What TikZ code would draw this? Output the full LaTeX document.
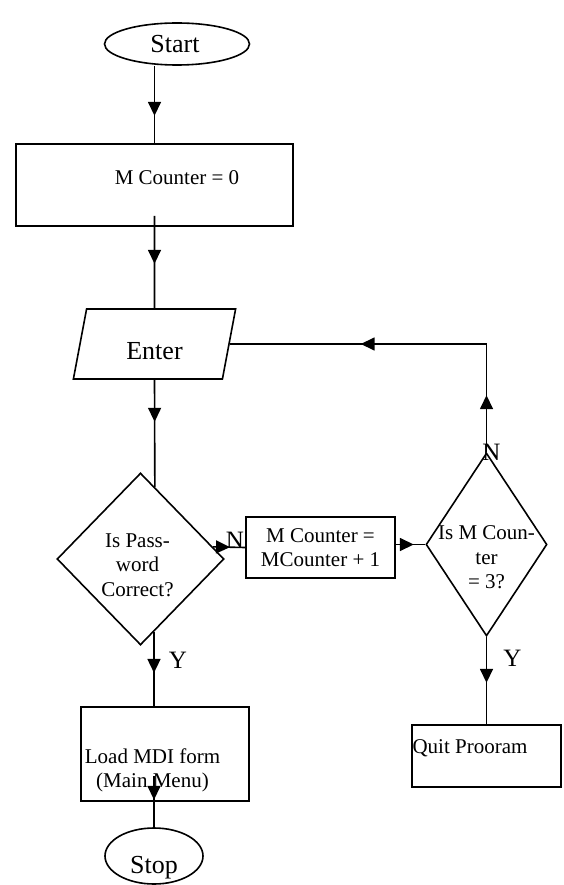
\documentclass[tikz,border=0pt]{standalone}
\usepackage{fontspec}
\setmainfont{Liberation Serif}
\usetikzlibrary{shapes.geometric,arrows.meta,decorations.markings,calc}

\begin{document}
\begin{tikzpicture}[
    x=1pt, y=-1pt,
    line width=1.6pt,
    >={Triangle[length=14pt,width=13pt]},
    terminal/.style={draw, ellipse, inner sep=0pt},
    process/.style={draw, rectangle, inner sep=0pt, align=center, font=\fontsize{21}{24.5}\selectfont},
    io/.style={draw, trapezium, trapezium left angle=80, trapezium right angle=100, trapezium stretches=true, inner sep=0pt, font=\fontsize{26}{30}\selectfont},
    decision/.style={draw, diamond, inner sep=0pt},
    txt/.style={font=\fontsize{21}{24.5}\selectfont, align=center, inner sep=0pt},
    bigtxt/.style={font=\fontsize{26}{30}\selectfont, inner sep=0pt},
    answer/.style={font=\fontsize{25}{30}\selectfont, inner sep=0pt},
    midarrow/.style={postaction={decorate}, decoration={markings, mark=at position #1 with {\arrow{>}}}},
    twoarrows/.style 2 args={postaction={decorate}, decoration={markings, mark=at position #1 with {\arrow{>}}, mark=at position #2 with {\arrow{>}}}}
    ]
    \useasboundingbox (0,0) rectangle (563,885);

    \node[terminal, minimum width=145pt, minimum height=42pt,
        label={[bigtxt, name=starttext, xshift=-2pt]center:Start}] (start) at (177,44) {};
    \node[process, minimum width=277pt, minimum height=82pt,
        label={[txt, name=mcounttext, xshift=22.5pt, yshift=7pt]center:M Counter = 0}] (mcount) at (154.5,185) {};
    \node[io, minimum width=163pt, minimum height=70pt, text height=31pt, text depth=0pt] (enter) at (154.5,344) {Enter};
    \node[decision, minimum width=167pt, minimum height=172pt,
        label={[txt, name=pwdtext, xshift=-3pt, yshift=-6pt]center:Is Pass-\\word\\Correct?}] (pwd) at (140.5,559) {};
    \node[process, minimum width=149pt, minimum height=61pt] (incr) at (320.5,547.5) {M Counter =\\MCounter + 1};
    \node[decision, minimum width=121pt, minimum height=183pt,
        label={[txt, name=cnt3text, yshift=-13pt]center:Is M Coun-\\ter\\= 3?}] (cnt3) at (486.5,544.5) {};
    \node[process, minimum width=168pt, minimum height=94pt,
        label={[txt, name=loadtext, xshift=-12.5pt, yshift=-16.5pt]center:Load MDI form\\(Main Menu)}] (loadmdi) at (165,754) {};
    \node[process, minimum width=149pt, minimum height=62pt,
        label={[txt, name=quittext, xshift=-16.5pt, yshift=8pt]center:Quit Prooram}] (quit) at (486.5,756) {};
    \node[terminal, minimum width=98pt, minimum height=56pt,
        label={[bigtxt, name=stoptext, yshift=-12pt]center:Stop}] (stop) at (154,856) {};

    \draw[midarrow=50pt] (start.south -| enter) -- (mcount.north -| enter);
    \draw[midarrow=48pt] ($(mcount.south -| enter)+(0,-11)$) -- (enter.north);
    \draw[midarrow=42pt] (enter.south) -- ($(pwd.north)!0.17!(pwd.east)$);
    \draw[midarrow=17pt] ($(pwd.north)!0.86!(pwd.east)$) -- (incr.west) node[answer, pos=0.68, yshift=7pt] {N};
    \draw[midarrow=18pt] (incr.east |- cnt3.west) -- (cnt3.west);
    \draw[twoarrows={57pt}{234pt}] (cnt3.north) |- (enter.east) node[answer, at start, xshift=5pt] {N};
    \draw[midarrow=41pt] ($(pwd.south)!0.16!(pwd.east)$) coordinate (pwdyes) -- (pwdyes |- loadmdi.north) node[answer, pos=0.38, xshift=24pt] {Y};
    \draw[midarrow=24pt] ($(loadmdi.south -| stop)+(0,-26)$) -- (stop.north);
    \draw[midarrow=46pt] (cnt3.south) -- (quit.north) node[answer, pos=0.25, xshift=26pt] {Y};
\end{tikzpicture}
\end{document}
